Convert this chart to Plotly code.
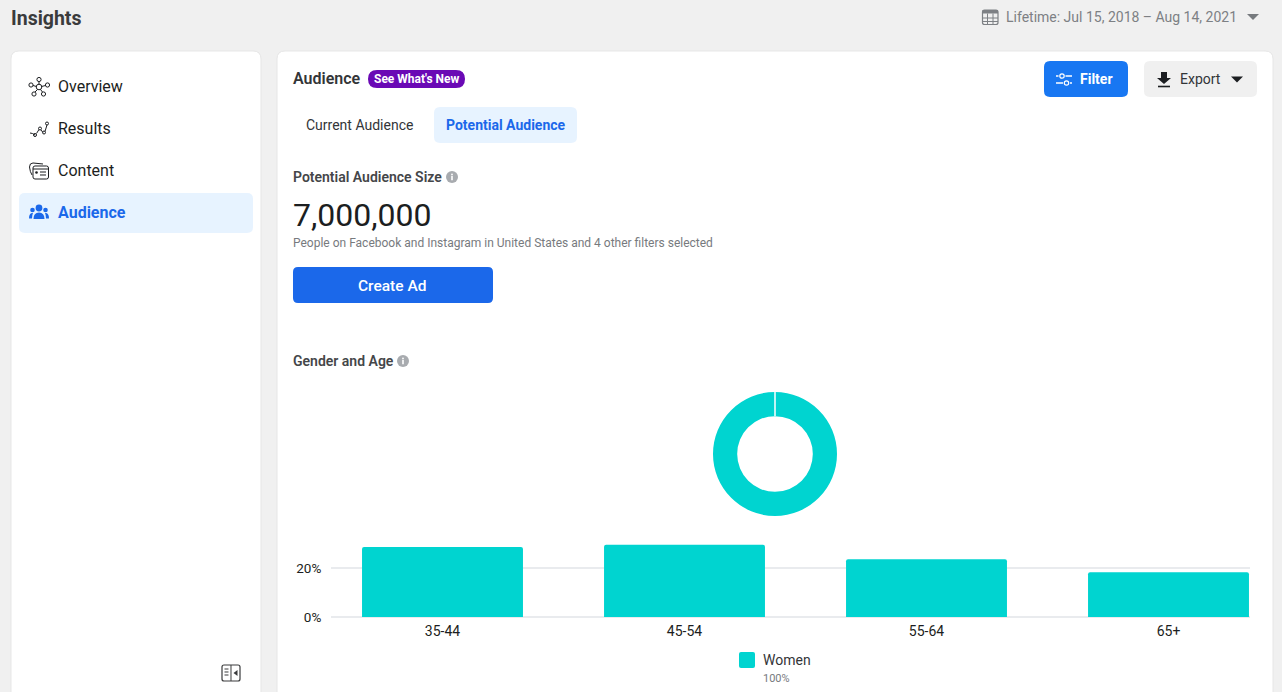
import re
import plotly.graph_objects as go

age_groups = ["35-44", "45-54", "55-64", "65+"]
women_share = [28.6, 29.5, 23.6, 18.3]
gender_names = ["Women"]
gender_share = [100]
y_ticks = [0, 20]
y_tick_labels = ["0%", "20%"]

W, H = 1282, 692
TEAL = "#00d4d0"
BLUE = "#1b68ea"
DARK = "#1c1e21"
GREY = "#606770"
FONT = "Roboto, Arial, sans-serif"

def fx(x): return x / W
def fy(y): return 1 - y / H

shapes, notes = [], []

def path(d, fill=None, line=None, width=1.0):
    toks = re.findall(r"[MLQCZ]|-?\d+\.?\d*", d)
    out, is_x = [], True
    for t in toks:
        if t in "MLQCZ":
            out.append(t); is_x = True
        else:
            out.append(f"{fx(float(t)):.6f}" if is_x else f"{fy(float(t)):.6f}")
            is_x = not is_x
    s = dict(type="path", xref="paper", yref="paper", path=" ".join(out), layer="below",
             fillcolor=fill or "rgba(0,0,0,0)",
             line=dict(color=line or "rgba(0,0,0,0)", width=width if line else 0))
    shapes.append(s)

def rr(x0, y0, x1, y1, r, fill=None, line=None, width=1.0):
    path(f"M {x0+r} {y0} L {x1-r} {y0} Q {x1} {y0} {x1} {y0+r} L {x1} {y1-r} Q {x1} {y1} {x1-r} {y1} "
         f"L {x0+r} {y1} Q {x0} {y1} {x0} {y1-r} L {x0} {y0+r} Q {x0} {y0} {x0+r} {y0} Z", fill, line, width)

def circ(cx, cy, r, fill=None, line=None, width=1.0):
    shapes.append(dict(type="circle", xref="paper", yref="paper", layer="below",
                       x0=fx(cx-r), x1=fx(cx+r), y0=fy(cy+r), y1=fy(cy-r),
                       fillcolor=fill or "rgba(0,0,0,0)",
                       line=dict(color=line or "rgba(0,0,0,0)", width=width if line else 0)))

def text(x, y, s, size, color=DARK, bold=False, anchor="left", weight=None):
    f = dict(family=FONT, size=size, color=color)
    if weight:
        f["weight"] = weight
    notes.append(dict(xref="paper", yref="paper", x=fx(x), y=fy(y), xanchor=anchor, yanchor="middle",
                      text=f"<b>{s}</b>" if bold else s, showarrow=False, borderpad=0, borderwidth=0,
                      font=f))

def info(cx, cy):
    circ(cx, cy, 6, fill="#a8abaf")
    circ(cx, cy-2.5, 0.9, fill="white")
    path(f"M {cx-0.8} {cy-0.9} L {cx+0.8} {cy-0.9} L {cx+0.8} {cy+3.2} L {cx-0.8} {cy+3.2} Z", fill="white")

# cards
rr(11, 51, 261, 720, 8, fill="white", line="#e6e6e6")
rr(277, 51, 1273, 720, 8, fill="white", line="#e6e6e6")

# sidebar
text(11, 18, "Insights", 19.5, "#3a3b3c", True)
text(58, 86.5, "Overview", 16)
text(58, 128.5, "Results", 16)
text(58, 170.5, "Content", 16)
rr(19, 193, 253, 233, 6, fill="#e7f3ff")
text(58, 212.5, "Audience", 16, BLUE, True)

# overview icon
for cx, cy in [(39, 79.5), (31, 85), (47.5, 85), (34, 94), (43.5, 94)]:
    circ(cx, cy, 2.1, line=DARK, width=1)
circ(39, 87, 2.8, line=DARK, width=1)
path("M 39 82 L 39 84.5 M 33 85.5 L 36.5 86.5 M 45.5 85.5 L 41.5 86.5 M 35 92 L 37.5 89.5 M 42.5 92 L 40.5 89.5", line=DARK)
# results icon
path("M 30 133 L 32.5 133.5 L 35 135 M 36.5 133.5 L 39 129.5 M 41 130 L 43 132.5 M 45 131.5 L 47 125", line=DARK)
for cx, cy in [(35, 135), (40, 128.5), (44, 132.5), (47, 123.5)]:
    circ(cx, cy, 1.5, line=DARK, width=1)
# content icon
path("M 32 175 Q 30 172 29.5 167 Q 29.5 163 33 163 L 43 164", line=DARK)
rr(33, 166, 48.5, 179, 2, fill="white", line=DARK)
path("M 33 169 L 48.5 169 M 40 172 L 46 172 M 40 175 L 46 175", line=DARK)
circ(36.5, 172.5, 1.3, fill=DARK)
# audience icon
circ(39, 208, 3.4, fill=BLUE)
circ(32.5, 210, 2.3, fill=BLUE)
circ(45.5, 210, 2.3, fill=BLUE)
path("M 33.5 219 Q 33.5 212.5 39 212.5 Q 44.5 212.5 44.5 219 Z", fill=BLUE)
path("M 29 218.5 Q 29 213 32.5 213 L 33 213 Q 32 215 32 218.5 Z", fill=BLUE)
path("M 49 218.5 Q 49 213 45.5 213 L 45 213 Q 46 215 46 218.5 Z", fill=BLUE)
# collapse icon
rr(222, 665, 240, 681, 2, line="#3a3b3c", width=1.2)
path("M 231 665 L 231 681 M 224.5 669 L 228.5 669 M 224.5 672 L 228.5 672 M 224.5 675 L 228.5 675", line="#3a3b3c")
path("M 237.5 670 L 233.5 673 L 237.5 676 Z", fill="#3a3b3c")

# date header
rr(982.5, 10, 998, 24.5, 2, line="#7d8084", width=1.2)
path("M 982.5 13.5 L 998 13.5 L 998 10 L 982.5 10 Z", fill="#7d8084")
path("M 982.5 18 L 998 18 M 982.5 21.5 L 998 21.5 M 987.5 13.5 L 987.5 24.5 M 993 13.5 L 993 24.5", line="#7d8084")
text(1006, 17, "Lifetime: Jul 15, 2018 – Aug 14, 2021", 14, "#7d8084")
path("M 1247 14 L 1259 14 L 1253 20 Z", fill="#777a7e")

# top of main card
text(293, 78.5, "Audience", 16, "#333538", False, weight=600)
rr(368, 70, 465, 88, 9, fill="#6a09b5")
text(416.5, 79, "See What's New", 12, "white", True, "center")
rr(1044, 61, 1128, 97, 6, fill="#1877f2")
path("M 1056 76 L 1058.5 76 M 1065.5 76 L 1072 76 M 1056 83 L 1063 83 M 1070 83 L 1072 83", line="white", width=1.3)
circ(1062, 76, 2.2, line="white", width=1.2)
circ(1066.5, 83, 2.2, line="white", width=1.2)
text(1079.5, 79, "Filter", 14, "white", True)
rr(1144, 61, 1257, 97, 6, fill="#f0f0f0")
path("M 1161 72 L 1167 72 L 1167 78 L 1171 78 L 1164 84 L 1157 78 L 1161 78 Z", fill=DARK)
path("M 1158 86.5 L 1170 86.5", line=DARK, width=1.6)
text(1180, 79.5, "Export", 14, "#333538")
path("M 1231 76.5 L 1243 76.5 L 1237 82.5 Z", fill=DARK)

# tabs
text(306, 125, "Current Audience", 14, "#333538")
rr(434, 107, 577, 143, 6, fill="#e7f3ff")
text(446, 125, "Potential Audience", 14, BLUE, True)

# summary
text(293, 177, "Potential Audience Size", 14, "#444649", False, weight=600)
info(452, 177)
text(293, 214.5, "7,000,000", 32, DARK)
text(293, 243, "People on Facebook and Instagram in United States and 4 other filters selected", 12, "#777a7e")
rr(293, 267, 493, 303, 5, fill=BLUE)
text(392.5, 286, "Create Ad", 15.5, "white", False, "center", 500)

# gender and age
text(293, 361, "Gender and Age", 14, "#444649", False, weight=600)
info(403, 361)

# legend
rr(739, 652, 755, 668, 2, fill=TEAL)
text(763, 660, gender_names[0], 14, "#333538")
text(763, 678, f"{gender_share[0]}%", 11, "#777a7e")

fig = go.Figure()
fig.add_trace(go.Pie(labels=gender_names, values=gender_share, hole=0.61, sort=False, textinfo="none",
                     marker=dict(colors=[TEAL], line=dict(width=0)), showlegend=False, hoverinfo="label+percent",
                     domain=dict(x=[fx(775-62), fx(775+62)], y=[fy(454+62), fy(454-62)])))
fig.add_trace(go.Bar(x=age_groups, y=women_share, name="Women", marker=dict(color=TEAL, line=dict(width=0)),
                     showlegend=False, hoverinfo="x+y"))

top = 540
slope = 2.45
fig.update_layout(
    width=W, height=H, autosize=False, margin=dict(l=0, r=0, t=0, b=0, pad=0),
    paper_bgcolor="#f0f0f0", plot_bgcolor="rgba(0,0,0,0)", bargap=0.335, barcornerradius=2,
    shapes=shapes, annotations=notes, font=dict(family=FONT),
    xaxis=dict(domain=[fx(331), fx(1250)], type="category", categoryorder="array", categoryarray=age_groups,
               range=[(331-442.5)/242, (1250-442.5)/242], showgrid=False, zeroline=False, showline=False,
               automargin=False, ticks="outside", ticklen=1, tickcolor="rgba(0,0,0,0)",
               tickfont=dict(size=14, color=DARK, family=FONT), fixedrange=True),
    yaxis=dict(domain=[fy(617), fy(top)], range=[0, (617-top)/slope], tickmode="array", tickvals=y_ticks,
               ticktext=y_tick_labels, showgrid=True, gridcolor="#e9ebee", gridwidth=1.5, zeroline=True,
               zerolinecolor="#e9ebee", zerolinewidth=1.5, showline=False, automargin=False, ticks="outside", ticklen=6,
               tickcolor="rgba(0,0,0,0)", tickfont=dict(size=13.5, color=DARK, family=FONT), fixedrange=True),
)
# white seam at the top of the ring
fig.add_shape(type="line", xref="paper", yref="paper", x0=fx(775), x1=fx(775), y0=fy(416), y1=fy(391),
              line=dict(color="white", width=1.5), layer="above")

fig.write_html("out.html", config=dict(displayModeBar=False),
               post_script="document.body.style.margin='0';document.body.style.overflow='hidden';")
